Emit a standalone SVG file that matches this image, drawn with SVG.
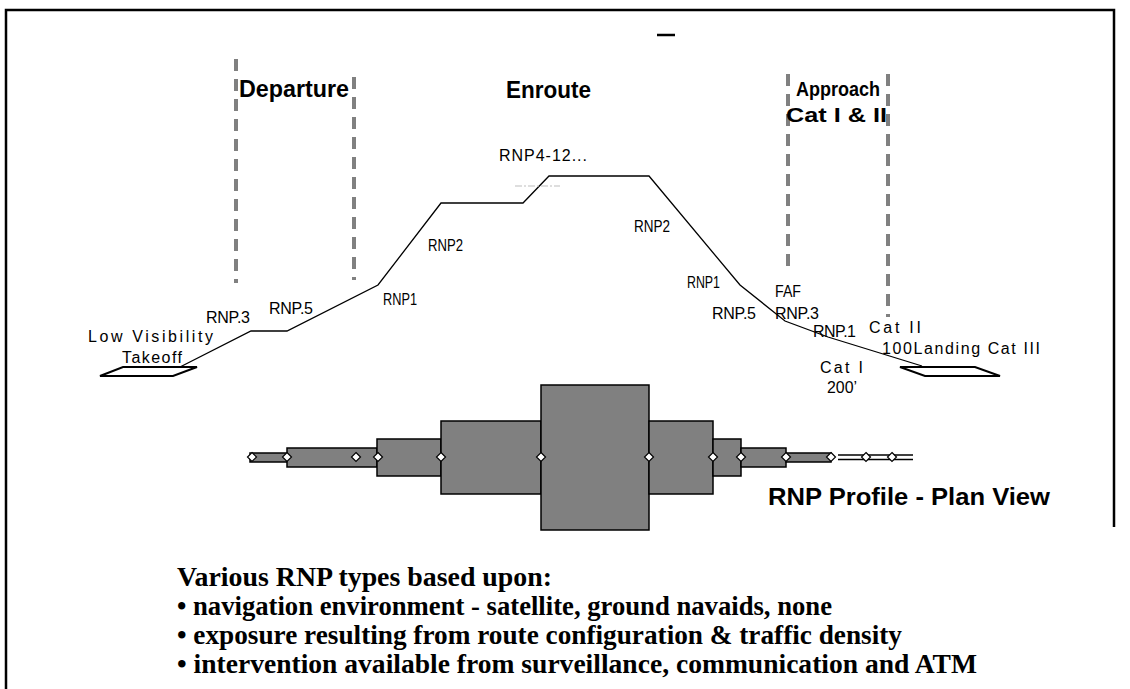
<svg xmlns="http://www.w3.org/2000/svg" xmlns:xlink="http://www.w3.org/1999/xlink" width="1130" height="689" viewBox="0 0 1130 689">
  <style>
    .frame { fill: none; stroke: #000; stroke-width: 2.5; }
    .divider { fill: none; stroke: #808080; stroke-width: 4; stroke-dasharray: 12 8; }
    .head { font-family: "Liberation Sans", Arial, sans-serif; font-weight: bold; fill: #000; }
    .lbl { font-family: "Liberation Sans", Arial, sans-serif; font-size: 16px; fill: #000; }
    .path { fill: none; stroke: #000; stroke-width: 1.3; stroke-linejoin: miter; }
    .rwy { fill: #fff; stroke: #000; stroke-width: 2; }
    .seg { fill: #808080; stroke: #000; stroke-width: 1.5; }
    .note { font-family: "Liberation Serif", "Times New Roman", serif; font-weight: bold; font-size: 27.5px; fill: #000; }
  </style>
  <defs>
    <path id="wp" d="M0,-4.5 L4.5,0 L0,4.5 L-4.5,0 Z" fill="#fff" stroke="#000" stroke-width="1.2"/>
  </defs>

  <rect width="1130" height="689" fill="#fff"/>

  <!-- page frame (open at the bottom) -->
  <g id="frame">
    <polyline class="frame" points="6,689 6,10 1114,10 1114,527"/>
    <line x1="657" y1="35" x2="675" y2="35" stroke="#000" stroke-width="2.5"/>
  </g>

  <!-- flight-phase dividers -->
  <g id="dividers">
    <line class="divider" x1="236" y1="59" x2="236" y2="283"/>
    <line class="divider" x1="354" y1="77" x2="354" y2="280"/>
    <line class="divider" x1="788" y1="74" x2="788" y2="272"/>
    <line class="divider" x1="888" y1="74" x2="888" y2="317"/>
  </g>

  <!-- phase headings -->
  <g id="phase-departure">
    <text class="head" x="239" y="97" font-size="24" textLength="110" lengthAdjust="spacingAndGlyphs">Departure</text>
  </g>
  <g id="phase-enroute">
    <text class="head" x="506" y="98" font-size="24" textLength="85" lengthAdjust="spacingAndGlyphs">Enroute</text>
  </g>
  <g id="phase-approach">
    <text class="head" x="796" y="96" font-size="21" textLength="84" lengthAdjust="spacingAndGlyphs">Approach</text>
    <text class="head" x="786" y="122" font-size="21" textLength="101" lengthAdjust="spacingAndGlyphs">Cat I &amp; II</text>
  </g>

  <!-- vertical profile: climb, cruise, descent -->
  <g id="profile">
    <polygon class="rwy" points="100,376 123,367 197,367 173,376"/>
    <polygon class="rwy" points="900,367 975,367 1000,376 925,376"/>
    <polyline class="path" points="180,367 251,331 287,331 378,285 441,203 523,203 549,176 649,176 740,285 785,321 828,337 922,366"/>
    <line x1="515" y1="186" x2="560" y2="186" stroke="#bdbdbd" stroke-width="1" stroke-dasharray="7 2 2 2"/>
  </g>

  <!-- RNP values along the profile -->
  <g id="profile-labels">
    <text class="lbl" x="88" y="342" font-size="15" textLength="125" lengthAdjust="spacing">Low Visibility</text>
    <text class="lbl" x="122" y="363" font-size="15" textLength="60" lengthAdjust="spacing">Takeoff</text>
    <text class="lbl" x="206" y="323" textLength="44" lengthAdjust="spacing">RNP.3</text>
    <text class="lbl" x="269" y="314" textLength="44" lengthAdjust="spacing">RNP.5</text>
    <text class="lbl" x="383" y="305" textLength="34" lengthAdjust="spacingAndGlyphs">RNP1</text>
    <text class="lbl" x="428" y="251" textLength="35" lengthAdjust="spacingAndGlyphs">RNP2</text>
    <text class="lbl" x="499" y="161" font-size="15" textLength="88" lengthAdjust="spacing">RNP4-12...</text>
    <text class="lbl" x="634" y="232" textLength="36" lengthAdjust="spacingAndGlyphs">RNP2</text>
    <text class="lbl" x="687" y="288" textLength="33" lengthAdjust="spacingAndGlyphs">RNP1</text>
    <text class="lbl" x="712" y="319" textLength="44" lengthAdjust="spacing">RNP.5</text>
    <text class="lbl" x="775" y="297" textLength="26" lengthAdjust="spacingAndGlyphs">FAF</text>
    <text class="lbl" x="775" y="319" textLength="44" lengthAdjust="spacing">RNP.3</text>
    <text class="lbl" x="813" y="337" textLength="43" lengthAdjust="spacing">RNP.1</text>
    <text class="lbl" x="869" y="333" textLength="52" lengthAdjust="spacing">Cat II</text>
    <text class="lbl" x="882" y="354" textLength="158" lengthAdjust="spacing">100Landing Cat III</text>
    <text class="lbl" x="820" y="373" textLength="43" lengthAdjust="spacing">Cat I</text>
    <text class="lbl" x="827" y="393" font-size="16" textLength="30" lengthAdjust="spacingAndGlyphs">200’</text>
  </g>

  <!-- plan view: containment width per segment -->
  <g id="plan-view">
    <rect class="seg" x="250" y="453" width="37" height="9"/>
    <rect class="seg" x="287" y="448" width="90" height="19"/>
    <rect class="seg" x="377" y="439" width="64" height="37"/>
    <rect class="seg" x="441" y="421" width="100" height="73"/>
    <rect class="seg" x="541" y="385" width="108" height="145"/>
    <rect class="seg" x="649" y="421" width="64" height="73"/>
    <rect class="seg" x="713" y="439" width="28" height="37"/>
    <rect class="seg" x="741" y="448" width="45" height="19"/>
    <rect class="seg" x="786" y="453" width="45" height="9"/>
    <line x1="838" y1="455" x2="913" y2="455" stroke="#000" stroke-width="1.6"/>
    <line x1="838" y1="459.5" x2="913" y2="459.5" stroke="#000" stroke-width="1.6"/>
  </g>

  <!-- segment boundaries -->
  <g id="waypoints">
    <use xlink:href="#wp" x="252" y="457"/>
    <use xlink:href="#wp" x="287" y="457"/>
    <use xlink:href="#wp" x="356" y="457"/>
    <use xlink:href="#wp" x="378" y="457"/>
    <use xlink:href="#wp" x="441" y="457"/>
    <use xlink:href="#wp" x="541" y="457"/>
    <use xlink:href="#wp" x="649" y="457"/>
    <use xlink:href="#wp" x="713" y="457"/>
    <use xlink:href="#wp" x="741" y="457"/>
    <use xlink:href="#wp" x="786" y="457"/>
    <use xlink:href="#wp" x="831" y="457"/>
    <use xlink:href="#wp" x="866" y="457"/>
    <use xlink:href="#wp" x="892" y="457"/>
  </g>

  <g id="plan-title">
    <text class="head" x="768" y="505" font-size="23" textLength="282" lengthAdjust="spacingAndGlyphs">RNP Profile - Plan View</text>
  </g>

  <!-- notes -->
  <g id="notes">
    <text class="note" x="177" y="586" textLength="375" lengthAdjust="spacingAndGlyphs">Various  RNP types based upon:</text>
    <text class="note" x="177" y="615" textLength="655" lengthAdjust="spacingAndGlyphs">• navigation environment - satellite, ground navaids, none</text>
    <text class="note" x="177" y="644" textLength="725" lengthAdjust="spacingAndGlyphs">• exposure resulting from route configuration &amp; traffic density</text>
    <text class="note" x="177" y="673" textLength="800" lengthAdjust="spacingAndGlyphs">• intervention available from surveillance, communication and ATM</text>
  </g>
</svg>
